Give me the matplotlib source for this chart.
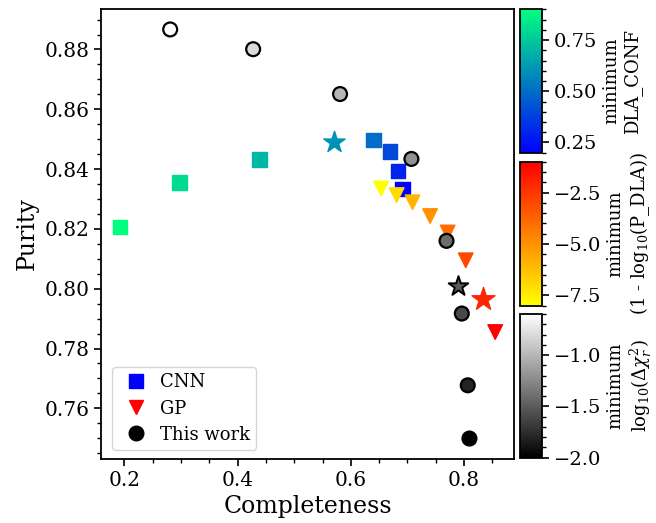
import matplotlib
matplotlib.use("Agg")
import matplotlib.pyplot as plt
from matplotlib.lines import Line2D
from matplotlib.ticker import MultipleLocator
import numpy as np

plt.rcParams['font.family'] = 'serif'
plt.rcParams['font.serif'] = ['DejaVu Serif']
plt.rcParams['mathtext.fontset'] = 'dejavuserif'

# CNN: purity/completeness for each DLA_CONF cut
cnn_comp = [0.192, 0.297, 0.439, 0.640, 0.669, 0.683, 0.691]
cnn_pur = [0.8207, 0.8355, 0.8432, 0.8497, 0.8459, 0.8394, 0.8333]
cnn_conf = [0.9, 0.8, 0.7, 0.5, 0.4, 0.3, 0.2]
cnn_best = (0.570, 0.8489, 0.6)

# GP: cuts on 1 - log10(P_DLA)
gp_comp = [0.6535, 0.681, 0.709, 0.740, 0.771, 0.803, 0.855]
gp_pur = [0.8335, 0.8313, 0.8289, 0.8243, 0.8188, 0.8095, 0.7855]
gp_cut = [-8, -7, -6, -5, -4, -3, -1]
gp_best = (0.8335, 0.7965, -2)

# this work: cuts on log10(delta chi2_r)
tw_comp = [0.281, 0.4275, 0.581, 0.707, 0.769, 0.796, 0.8065, 0.8095]
tw_pur = [0.8867, 0.8801, 0.8651, 0.8434, 0.8160, 0.7917, 0.7677, 0.7499]
tw_cut = [-0.6, -0.8, -1.0, -1.2, -1.4, -1.6, -1.8, -2.0]
tw_best = (0.790, 0.8009, -1.5)

fig = plt.figure(figsize=(6.56, 5.23), dpi=100)
ax = fig.add_axes([0.154, 0.1224, 0.6295, 0.8604])

norm_cnn = plt.Normalize(0.2, 0.9)
norm_gp = plt.Normalize(-8, -1)
norm_tw = plt.Normalize(-2.0, -0.6)

sc1 = ax.scatter(cnn_comp, cnn_pur, c=cnn_conf, cmap='winter', norm=norm_cnn,
                 marker='s', s=110, zorder=3)
ax.scatter([cnn_best[0]], [cnn_best[1]], c=[cnn_best[2]], cmap='winter', norm=norm_cnn,
           marker='*', s=260, zorder=3)

sc2 = ax.scatter(gp_comp, gp_pur, c=gp_cut, cmap='autumn_r', norm=norm_gp,
                 marker='v', s=110, zorder=3)
ax.scatter([gp_best[0]], [gp_best[1]], c=[gp_best[2]], cmap='autumn_r', norm=norm_gp,
           marker='*', s=300, zorder=3)

sc3 = ax.scatter(tw_comp, tw_pur, c=tw_cut, cmap='gray', norm=norm_tw,
                 marker='o', s=100, edgecolors='black', linewidths=1.6, zorder=4)
ax.scatter([tw_best[0]], [tw_best[1]], c=[tw_best[2]], cmap='gray', norm=norm_tw,
           marker='*', s=220, edgecolors='black', linewidths=1.4, zorder=4)

ax.set_xlabel('Completeness', fontsize=17)
ax.set_ylabel('Purity', fontsize=17)
ax.xaxis.set_major_locator(MultipleLocator(0.2))
ax.xaxis.set_minor_locator(MultipleLocator(0.05))
ax.yaxis.set_major_locator(MultipleLocator(0.02))
ax.yaxis.set_minor_locator(MultipleLocator(0.005))
ax.tick_params(which='major', labelsize=14.5, length=5, width=1.2)
ax.tick_params(which='minor', length=3, width=1.0)
for sp in ax.spines.values():
    sp.set_linewidth(1.3)

handles = [
    Line2D([], [], marker='s', color='blue', linestyle='none', markersize=10.5),
    Line2D([], [], marker='v', color='red', linestyle='none', markersize=10.5),
    Line2D([], [], marker='o', color='black', linestyle='none', markersize=10.5),
]
ax.legend(handles, ['CNN', 'GP', 'This work'], loc='lower left', fontsize=13,
          handletextpad=0.3, labelspacing=0.45, borderpad=0.35,
          bbox_to_anchor=(0.005, 0.0))

# three stacked colorbars on the right
cax1 = fig.add_axes([0.7927, 0.708, 0.033, 0.274])
cax2 = fig.add_axes([0.7927, 0.4155, 0.033, 0.2753])
cax3 = fig.add_axes([0.7927, 0.1248, 0.033, 0.2748])

cb1 = fig.colorbar(sc1, cax=cax1)
cb1.set_ticks([0.25, 0.5, 0.75])
cb1.ax.yaxis.set_minor_locator(MultipleLocator(0.05))
cb1.set_label('minimum\nDLA_CONF', fontsize=13)

cb2 = fig.colorbar(sc2, cax=cax2)
cb2.set_ticks([-7.5, -5.0, -2.5])
cb2.ax.yaxis.set_minor_locator(MultipleLocator(0.5))
cb2.set_label('minimum\n(1 - log$_{10}$(P_DLA))', fontsize=13)

cb3 = fig.colorbar(sc3, cax=cax3)
cb3.set_ticks([-2.0, -1.5, -1.0])
cb3.ax.yaxis.set_minor_locator(MultipleLocator(0.1))
cb3.set_label('minimum\nlog$_{10}$($\\Delta\\chi_r^2$)', fontsize=13)

for cb in (cb1, cb2, cb3):
    cb.ax.tick_params(which='major', labelsize=14, length=5, width=1.2)
    cb.ax.tick_params(which='minor', length=3, width=1.0)
    cb.outline.set_linewidth(1.3)

fig.savefig('out.png', dpi=100)
